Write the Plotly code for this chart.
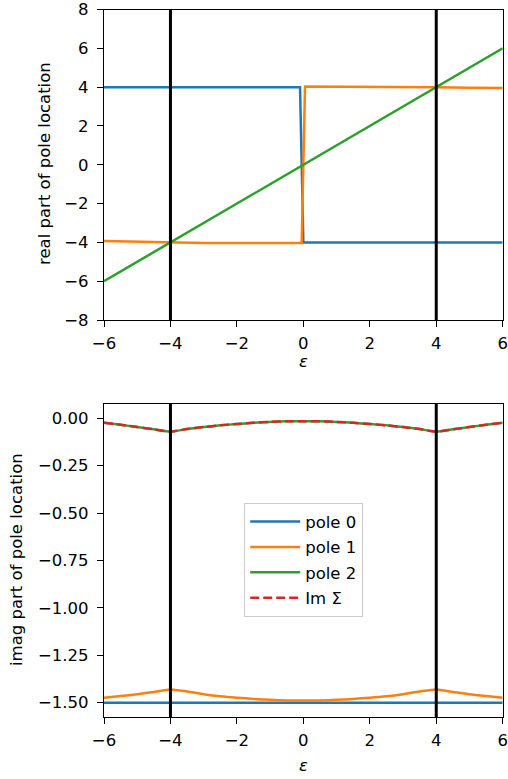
import plotly.graph_objects as go

# ---- data ----
eps_real_p0 = [-6, -0.1, 0.0, 6]
real_p0 = [4.0, 4.0, -4.0, -4.0]

eps_real_p1 = [-6, -5, -4, -3, -2, -1, -0.05, 0.05, 1, 2, 3, 4, 5, 6]
real_p1 = [-3.93, -3.97, -4.0, -4.03, -4.03, -4.03, -4.03, 4.03, 4.03, 4.03, 4.03, 4.0, 3.97, 3.95]

eps_real_p2 = [-6, -4, -2, 0, 2, 4, 6]
real_p2 = [-6, -4, -2, 0, 2, 4, 6]

eps_imag = [-6, -5.5, -5, -4.5, -4, -3.5, -3, -2.5, -2, -1.5, -1, -0.5, 0,
            0.5, 1, 1.5, 2, 2.5, 3, 3.5, 4, 4.5, 5, 5.5, 6]
imag_p0 = [-1.5] * len(eps_imag)
imag_p1 = [-1.474, -1.465, -1.455, -1.443, -1.430, -1.441, -1.455, -1.466, -1.474,
           -1.480, -1.485, -1.488, -1.489,
           -1.488, -1.485, -1.480, -1.474, -1.466, -1.455, -1.441, -1.430,
           -1.443, -1.455, -1.465, -1.474]
imag_p2 = [-0.023, -0.034, -0.046, -0.058, -0.070, -0.057, -0.046, -0.037, -0.030,
           -0.024, -0.019, -0.016, -0.015,
           -0.016, -0.019, -0.024, -0.030, -0.037, -0.046, -0.057, -0.070,
           -0.058, -0.046, -0.034, -0.023]
im_sigma = [-0.023, -0.034, -0.046, -0.058, -0.070, -0.057, -0.046, -0.037, -0.030,
            -0.024, -0.019, -0.016, -0.015,
            -0.016, -0.019, -0.024, -0.030, -0.037, -0.046, -0.057, -0.070,
            -0.058, -0.046, -0.034, -0.023]

vlines = [-4, 4]
x_ticks = [-6, -4, -2, 0, 2, 4, 6]
y_ticks_top = [-8, -6, -4, -2, 0, 2, 4, 6, 8]
y_ticks_bot = [0.0, -0.25, -0.5, -0.75, -1.0, -1.25, -1.5]

BLUE, ORANGE, GREEN, RED = "#1f77b4", "#ff7f0e", "#2ca02c", "#d62728"
FONT = "DejaVu Sans"
FS = 16.5
LW = 2.5
W, H = 508, 779

fig = go.Figure()

# top panel
fig.add_trace(go.Scatter(x=eps_real_p0, y=real_p0, mode="lines", line=dict(color=BLUE, width=LW),
                         showlegend=False, xaxis="x", yaxis="y"))
fig.add_trace(go.Scatter(x=eps_real_p1, y=real_p1, mode="lines", line=dict(color=ORANGE, width=LW),
                         showlegend=False, xaxis="x", yaxis="y"))
fig.add_trace(go.Scatter(x=eps_real_p2, y=real_p2, mode="lines", line=dict(color=GREEN, width=LW),
                         showlegend=False, xaxis="x", yaxis="y"))

# bottom panel
fig.add_trace(go.Scatter(x=eps_imag, y=imag_p0, mode="lines", name="pole 0", legendgroup="g0",
                         line=dict(color=BLUE, width=LW), xaxis="x2", yaxis="y2"))
fig.add_trace(go.Scatter(x=eps_imag, y=imag_p1, mode="lines", name="pole 1", legendgroup="g1",
                         line=dict(color=ORANGE, width=LW, shape="spline", smoothing=0.6),
                         xaxis="x2", yaxis="y2"))
fig.add_trace(go.Scatter(x=eps_imag, y=imag_p2, mode="lines", name="pole 2", legendgroup="g2",
                         line=dict(color=GREEN, width=LW, shape="spline", smoothing=0.6),
                         xaxis="x2", yaxis="y2"))
fig.add_trace(go.Scatter(x=eps_imag, y=im_sigma, mode="lines", name="Im Σ", legendgroup="g3",
                         line=dict(color=RED, width=LW, dash="9px,4px", shape="spline", smoothing=0.6),
                         xaxis="x2", yaxis="y2"))

shapes = []
for xr, yr in (("x", "y"), ("x2", "y2")):
    for v in vlines:
        shapes.append(dict(type="line", xref=xr, yref=yr + " domain", x0=v, x1=v, y0=0, y1=1,
                           line=dict(color="black", width=3), layer="above"))

axis_common = dict(showgrid=False, zeroline=False, showline=True, linecolor="black", linewidth=1.2,
                   mirror=True, ticks="outside", ticklen=6, tickwidth=1.2, tickcolor="black",
                   automargin=False, ticklabeloverflow="allow",
                   tickfont=dict(family=FONT, size=FS, color="black"))

x0d, x1d = 104 / W, 502.7 / W
fig.update_layout(
    width=W, height=H,
    margin=dict(l=0, r=0, t=0, b=0, autoexpand=False),
    paper_bgcolor="white", plot_bgcolor="white",
    font=dict(family=FONT, size=FS, color="black"),
    xaxis=dict(domain=[x0d, x1d], range=[-6, 6], tickvals=x_ticks, anchor="y",
               ticklabelstandoff=2, **axis_common),
    yaxis=dict(domain=[1 - 320 / H, 1 - 9.5 / H], range=[-8, 8], tickvals=y_ticks_top, anchor="x",
               ticklabelstandoff=5, **axis_common),
    xaxis2=dict(domain=[x0d, x1d], range=[-6, 6], tickvals=x_ticks, anchor="y2",
                ticklabelstandoff=2, **axis_common),
    yaxis2=dict(domain=[1 - 717 / H, 1 - 404 / H], range=[-1.5754, 0.0754], tickvals=y_ticks_bot,
                tickformat=".2f", anchor="x2", ticklabelstandoff=5, **axis_common),
    shapes=shapes,
    showlegend=True,
    legend=dict(x=244 / W, y=1 - 503 / H, xanchor="left", yanchor="top",
                bgcolor="rgba(255,255,255,0.8)", bordercolor="#cccccc", borderwidth=1.2,
                font=dict(family=FONT, size=FS, color="black"), tracegroupgap=1, itemwidth=50),
    annotations=[
        dict(text="<i>ε</i>", xref="paper", yref="paper", x=(104 + 502.7) / 2 / W, y=1 - 362 / H,
             showarrow=False, xanchor="center", yanchor="middle", font=dict(size=FS)),
        dict(text="<i>ε</i>", xref="paper", yref="paper", x=(104 + 502.7) / 2 / W, y=1 - 765 / H,
             showarrow=False, xanchor="center", yanchor="middle", font=dict(size=FS)),
        dict(text="real part of pole location", xref="paper", yref="paper", x=44 / W, y=1 - 164 / H,
             textangle=-90, showarrow=False, xanchor="center", yanchor="middle", font=dict(size=FS)),
        dict(text="imag part of pole location", xref="paper", yref="paper", x=16 / W, y=1 - 560 / H,
             textangle=-90, showarrow=False, xanchor="center", yanchor="middle", font=dict(size=FS)),
    ],
)

fig.write_html("out.html", config={"displayModeBar": False},
               post_script="document.body.style.margin='0';document.body.style.overflow='hidden';")
